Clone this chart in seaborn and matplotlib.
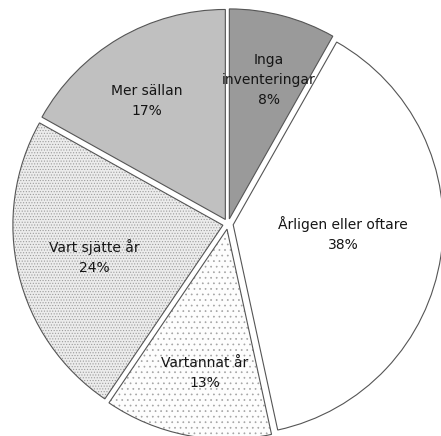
import matplotlib
matplotlib.use("Agg")
import numpy as np
import matplotlib.pyplot as plt
import seaborn as sns

# data, clockwise from 12 o'clock (shares,
# they round to the printed percentages)
categories = ["Inga\ninventeringar", "Årligen eller oftare", "Vartannat år",
              "Vart sjätte år", "Mer sällan"]
shares = [8.2, 38.4, 12.9, 23.6, 16.9]

# styling
colors = ["#9a9a9a", "#ffffff", "#fdfdfd", "#ececec", "#c0c0c0"]
hatches = [None, None, "...", "......", None]
hatch_colors = ["#9a9a9a", "#ffffff", "#a4a4a4", "#9c9c9c", "#c0c0c0"]
label_dist = [0.688, 0.525, 0.693, 0.632, 0.676]
label_turn = [-1.1, 3.8, 2.3, 0.6, 3.0]  # degrees off the slice middle
explode = [0.025] * len(shares)

sns.set_theme(style="white")
plt.rcParams["font.family"] = ["DejaVu Sans"]
plt.rcParams["hatch.linewidth"] = 0.5

fig = plt.figure(figsize=(4.41, 4.36), dpi=100)
ax = fig.add_axes([0, 0, 1, 1])

# fills + dot patterns (hatch takes the edge colour, so lw 0 here)
fills, _ = ax.pie(shares, startangle=90, counterclock=False, explode=explode,
                  colors=colors, wedgeprops=dict(linewidth=0))
for w, h, hc in zip(fills, hatches, hatch_colors):
    w.set_edgecolor(hc)
    if h:
        w.set_hatch(h)

# outlines on top
wedges, _ = ax.pie(shares, startangle=90, counterclock=False, explode=explode,
                   colors=["none"] * len(shares),
                   wedgeprops=dict(edgecolor="#555555", linewidth=0.8))

for w, lab, val, d, t in zip(wedges, categories, shares, label_dist, label_turn):
    mid = np.deg2rad((w.theta1 + w.theta2) / 2 + t)
    cx, cy = w.center
    ax.text(cx + d * np.cos(mid), cy + d * np.sin(mid), f"{lab}\n{round(val)}%",
            ha="center", va="center", fontsize=10, linespacing=1.55,
            color="#151515")

# pie is cropped by the figure edges in the original
ax.set_xlim(-228 / 210, (441 - 228) / 210)
ax.set_ylim(-(436 - 224) / 210, 224 / 210)
ax.set_aspect("auto")
ax.axis("off")

fig.savefig("out.png", dpi=100)
